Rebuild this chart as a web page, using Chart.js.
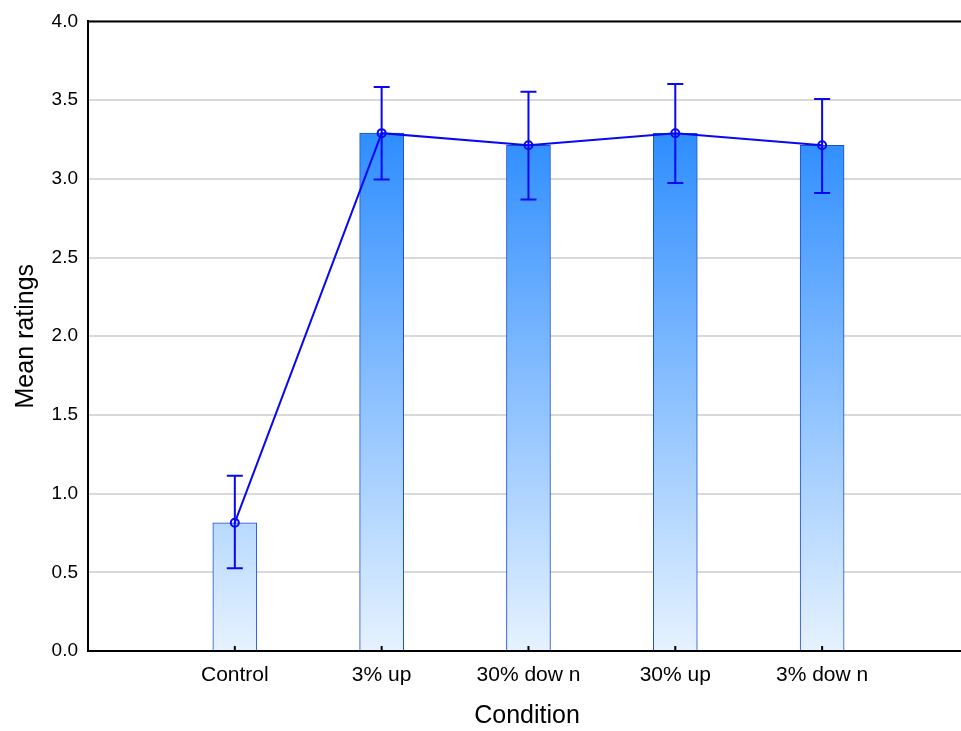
<!DOCTYPE html>
<html>
<head>
<meta charset="utf-8">
<script src="https://cdn.jsdelivr.net/npm/chart.js@4.4.1/dist/chart.umd.min.js"></script>
<style>
  html, body { margin: 0; padding: 0; background: #ffffff; overflow: hidden; }
  #wrap { width: 961px; height: 731px; overflow: hidden; }
</style>
</head>
<body>
<div id="wrap"><canvas id="chart" width="972" height="731"></canvas></div>
<script>
// Conditions and their mean ratings with error limits
const categories = ['Control', '3% up', '30% dow n', '30% up', '3% dow n'];
const positions = [1, 2, 3, 4, 5];
const means = [0.815, 3.29, 3.213, 3.289, 3.213];
const errLow = [0.525, 2.995, 2.868, 2.974, 2.91];
const errHigh = [1.113, 3.583, 3.553, 3.602, 3.507];
const yTicks = [0.0, 0.5, 1.0, 1.5, 2.0, 2.5, 3.0, 3.5, 4.0];

const points = positions.map((p, i) => ({ x: p, y: means[i] }));
const BLUE = '#0808f2';
const FONT = "'Liberation Sans', Arial, sans-serif";

function barGradient(ctx) {
  const chart = ctx.chart;
  const area = chart.chartArea;
  if (!area) return '#8cc4ff';
  const y = chart.scales.y;
  const g = chart.ctx.createLinearGradient(0, y.getPixelForValue(0), 0, y.getPixelForValue(3.3));
  g.addColorStop(0, '#e6f2ff');
  g.addColorStop(1, '#2d8dff');
  return g;
}

// Error bars, inward x ticks and the top frame line
const overlay = {
  id: 'overlay',
  afterDatasetsDraw(chart) {
    const { ctx, scales: { x, y }, chartArea } = chart;
    ctx.save();
    ctx.strokeStyle = BLUE;
    ctx.lineWidth = 2;
    positions.forEach((p, i) => {
      const px = x.getPixelForValue(p);
      const top = y.getPixelForValue(errHigh[i]);
      const bot = y.getPixelForValue(errLow[i]);
      ctx.beginPath();
      ctx.moveTo(px, top); ctx.lineTo(px, bot);
      ctx.moveTo(px - 8, top); ctx.lineTo(px + 8, top);
      ctx.moveTo(px - 8, bot); ctx.lineTo(px + 8, bot);
      ctx.stroke();
    });
    ctx.strokeStyle = '#000000';
    ctx.lineWidth = 2;
    positions.forEach(p => {
      const px = x.getPixelForValue(p);
      ctx.beginPath();
      ctx.moveTo(px, chartArea.bottom);
      ctx.lineTo(px, chartArea.bottom - 5);
      ctx.stroke();
    });
    ctx.beginPath();
    ctx.moveTo(chartArea.left - 1, chartArea.top);
    ctx.lineTo(chart.width, chartArea.top);
    ctx.stroke();
    ctx.restore();
  }
};

new Chart(document.getElementById('chart'), {
  data: {
    datasets: [
      {
        type: 'line',
        data: points,
        borderColor: BLUE,
        borderWidth: 2,
        pointRadius: 4,
        pointBorderWidth: 2,
        pointBackgroundColor: 'rgba(0,0,0,0)',
        pointBorderColor: BLUE,
        order: 0
      },
      {
        type: 'bar',
        data: points,
        backgroundColor: barGradient,
        borderColor: '#1a4fcc',
        borderWidth: 1,
        barThickness: 44,
        order: 1
      }
    ]
  },
  options: {
    responsive: false,
    animation: false,
    devicePixelRatio: 1,
    layout: { padding: { top: 21, right: 0, left: 0, bottom: 0 } },
    plugins: { legend: { display: false }, tooltip: { enabled: false } },
    scales: {
      x: {
        type: 'linear',
        offset: false,
        min: 0,
        max: 5.98,
        afterBuildTicks(axis) {
          axis.ticks = positions.map(v => ({ value: v }));
        },
        afterFit(axis) {
          axis.height = 80;
          axis.paddingLeft = 0;
          axis.paddingRight = 0;
        },
        grid: { display: true, drawOnChartArea: false, drawTicks: false },
        border: { display: true, color: '#000000', width: 2 },
        ticks: {
          padding: 12,
          maxRotation: 0,
          color: '#000000',
          font: { family: FONT, size: 21 },
          callback: (v) => categories[positions.indexOf(v)] || ''
        },
        title: {
          display: true,
          text: 'Condition',
          color: '#000000',
          font: { family: FONT, size: 25 },
          padding: { top: 9, bottom: 0 }
        }
      },
      y: {
        min: 0,
        max: 4,
        afterBuildTicks(axis) {
          axis.ticks = yTicks.map(v => ({ value: v }));
        },
        afterFit(axis) { axis.width = 88; },
        grid: { color: '#d9d9d9', lineWidth: 2, drawTicks: false },
        border: { display: true, color: '#000000', width: 2 },
        ticks: {
          padding: 10,
          color: '#000000',
          font: { family: FONT, size: 19 },
          callback: (v) => Number(v).toFixed(1)
        },
        title: {
          display: true,
          text: 'Mean ratings',
          color: '#000000',
          font: { family: FONT, size: 25 },
          padding: { top: 11, bottom: 0 }
        }
      }
    }
  },
  plugins: [overlay]
});
</script>
</body>
</html>
